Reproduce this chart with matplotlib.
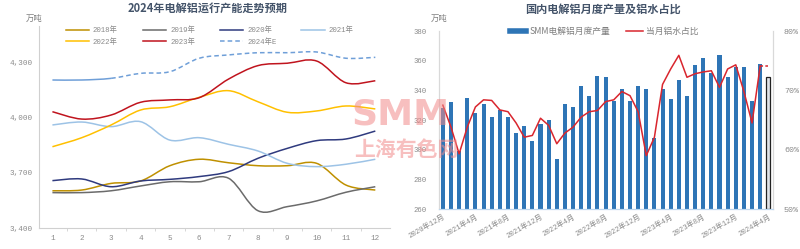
import matplotlib
matplotlib.use('Agg')
import matplotlib.pyplot as plt
from matplotlib.path import Path
from matplotlib.patches import PathPatch
from matplotlib.lines import Line2D

CJK = 'Noto Sans CJK SC'
MONO = ['Liberation Mono', CJK]

# left chart: running capacity by month (10k t)
months = list(range(1, 13))
cap2018 = [3602, 3606, 3642, 3655, 3738, 3773, 3754, 3738, 3738, 3751, 3633, 3606]
cap2019 = [3592, 3592, 3602, 3628, 3651, 3651, 3670, 3494, 3516, 3547, 3594, 3624]
cap2020 = [3657, 3666, 3624, 3655, 3664, 3679, 3706, 3778, 3832, 3874, 3883, 3926]
cap2021 = [3959, 3975, 3950, 3977, 3877, 3890, 3854, 3818, 3751, 3733, 3746, 3773]
cap2022 = [3841, 3890, 3959, 4040, 4058, 4109, 4145, 4085, 4028, 4035, 4062, 4046]
cap2023 = [4031, 3991, 4013, 4082, 4095, 4107, 4208, 4281, 4294, 4306, 4188, 4199]
cap2024e = [4203, 4203, 4212, 4239, 4248, 4321, 4339, 4351, 4351, 4355, 4321, 4326]

# right chart: monthly output and molten aluminium share, 2020-12 .. 2024-04
periods = ['2020年12月', '2021年1月', '2021年2月', '2021年3月', '2021年4月', '2021年5月',
           '2021年6月', '2021年7月', '2021年8月', '2021年9月', '2021年10月', '2021年11月',
           '2021年12月', '2022年1月', '2022年2月', '2022年3月', '2022年4月', '2022年5月',
           '2022年6月', '2022年7月', '2022年8月', '2022年9月', '2022年10月', '2022年11月',
           '2022年12月', '2023年1月', '2023年2月', '2023年3月', '2023年4月', '2023年5月',
           '2023年6月', '2023年7月', '2023年8月', '2023年9月', '2023年10月', '2023年11月',
           '2023年12月', '2024年1月', '2024年2月', '2024年3月', '2024年4月']
output = [328, 332, 299, 335, 325, 331, 322, 327, 322, 311, 316, 306, 317, 320, 294,
          331, 329, 343, 336, 350, 349, 333, 341, 333, 343, 341, 308, 341, 334, 347,
          336, 357, 362, 352, 364, 349, 356, 356, 333, 358, 349]
molten = [67.5, 63.8, 59.3, 63.8, 67.2, 68.4, 68.3, 66.7, 66.4, 64.5, 62.1, 62.4, 65.3,
          64.1, 61.0, 62.8, 63.8, 65.5, 66.4, 66.6, 68.1, 68.4, 69.8, 69.1, 66.4, 59.0,
          62.1, 71.0, 73.6, 75.9, 72.2, 72.8, 73.1, 73.3, 70.5, 73.6, 74.3, 69.8, 64.5,
          74.1, 74.1]


def smooth_path(xs, ys, start, end):
    # catmull-rom style bezier through the points, segment start..end
    n = len(xs)
    pts = list(zip(xs, ys))
    verts = [pts[start]]
    codes = [Path.MOVETO]
    for i in range(start, end):
        p0 = pts[max(i - 1, 0)]
        p1 = pts[i]
        p2 = pts[i + 1]
        p3 = pts[min(i + 2, n - 1)]
        c1 = (p1[0] + (p2[0] - p0[0]) / 6, p1[1] + (p2[1] - p0[1]) / 6)
        c2 = (p2[0] - (p3[0] - p1[0]) / 6, p2[1] - (p3[1] - p1[1]) / 6)
        verts += [c1, c2, p2]
        codes += [Path.CURVE4] * 3
    return Path(verts, codes)


fig = plt.figure(figsize=(8, 2.49), dpi=100)
tick_col = '#8a8a8a'

# ---------------- left chart
ax1 = fig.add_axes([0.049, 0.0843, 0.4385, 0.8113])
series = [('2018年', cap2018, '#bf9000'), ('2019年', cap2019, '#6b6b6b'),
          ('2020年', cap2020, '#2f3a7e'), ('2021年', cap2021, '#9dc3e6'),
          ('2022年', cap2022, '#ffc000'), ('2023年', cap2023, '#c0141e')]
handles = {}
for name, vals, col in series:
    ax1.add_patch(PathPatch(smooth_path(months, vals, 0, 11), fill=False,
                            edgecolor=col, lw=1.1))
    handles[name] = Line2D([], [], color=col, lw=1.1, label=name)
ax1.add_patch(PathPatch(smooth_path(months, cap2024e, 0, 2), fill=False,
                        edgecolor='#6f9fd8', lw=1.1))
ax1.add_patch(PathPatch(smooth_path(months, cap2024e, 2, 11), fill=False,
                        edgecolor='#6f9fd8', lw=1.1, linestyle=(0, (3, 2))))
handles['2024年E'] = Line2D([], [], color='#6f9fd8', lw=1.1, ls=(0, (3, 2)), label='2024年E')

ax1.set_xlim(0.55, 12.5)
ax1.set_ylim(3400, 4496)
ax1.set_xticks(months)
ax1.set_xticks([m + 0.5 for m in months[:-1]], minor=True)
ax1.set_yticks([3400, 3700, 4000, 4300])
ax1.set_yticklabels(['3,400', '3,700', '4,000', '4,300'])
ax1.tick_params(axis='both', labelsize=5.5, colors=tick_col, length=0, pad=5)
ax1.tick_params(axis='x', which='minor', length=2, color='#d0d0d0')
for lab in ax1.get_xticklabels() + ax1.get_yticklabels():
    lab.set_family(MONO)
for s in ['top', 'right']:
    ax1.spines[s].set_visible(False)
for s in ['left', 'bottom']:
    ax1.spines[s].set_color('#d0d0d0')
    ax1.spines[s].set_linewidth(0.8)

# legend fills column by column, so order it to read row by row
order = ['2018年', '2022年', '2019年', '2023年', '2020年', '2024年E', '2021年']
fig.legend(handles=[handles[k] for k in order], loc='center',
           bbox_to_anchor=(0.262, 0.855), ncol=4,
           frameon=False, prop={'family': MONO, 'size': 5.3}, labelcolor='#8a8a8a',
           handlelength=3.2, handletextpad=0.5, columnspacing=3.4, labelspacing=0.5)

fig.text(0.259, 0.965, '2024年电解铝运行产能走势预期', ha='center', va='center',
         family=CJK, fontsize=8, fontweight='bold', color='#44546a')
fig.text(0.043, 0.925, '万吨', ha='center', va='center', family=CJK, fontsize=6,
         color='#7f7f7f')

# ---------------- right chart
ax2 = fig.add_axes([0.549, 0.1606, 0.417, 0.7149])
ax3 = ax2.twinx()
x = list(range(len(periods)))
bar_cols = ['#2e75b6'] * (len(x) - 1) + ['#dfe3e8']
edge_cols = ['#2e75b6'] * (len(x) - 1) + ['#222222']
ax2.bar(x, [v - 260 for v in output], bottom=260, width=0.5, color=bar_cols,
        edgecolor=edge_cols, linewidth=[0] * (len(x) - 1) + [0.9], zorder=2)
ax3.plot(x[:-1], molten[:-1], color='#d9262e', lw=1.1, zorder=3)
ax3.plot(x[-2:], molten[-2:], color='#d9262e', lw=1.1, ls=(0, (2, 1.5)), zorder=3)

ax2.set_xlim(-0.45, 40.55)
ax2.set_ylim(260, 380)
ax3.set_ylim(50, 80)
ax2.set_yticks(range(260, 381, 20))
ax3.set_yticks([50, 60, 70, 80])
ax3.set_yticklabels(['50%', '60%', '70%', '80%'])
ax2.set_xticks(x[::4])
ax2.set_xticklabels(periods[::4], rotation=30, ha='right', rotation_mode='anchor',
                    family=MONO)
ax2.tick_params(axis='x', labelsize=5.2, colors=tick_col, length=0, pad=3)
ax2.tick_params(axis='y', labelsize=5.2, colors=tick_col, length=0, pad=9)
ax3.tick_params(axis='y', labelsize=6, colors=tick_col, length=0, pad=8)
for lab in ax2.get_yticklabels() + ax3.get_yticklabels():
    lab.set_family(MONO)
for a in (ax2, ax3):
    a.spines['top'].set_visible(False)
    a.spines['left'].set_color('#d9d9d9')
    a.spines['right'].set_color('#d9d9d9')
    a.spines['bottom'].set_color('#bdd7ee')

h2 = [Line2D([], [], color='#2e75b6', lw=4, label='SMM电解铝月度产量'),
      Line2D([], [], color='#d9262e', lw=1.1, label='当月铝水占比')]
fig.legend(handles=h2, loc='center', bbox_to_anchor=(0.755, 0.875), ncol=2,
           frameon=False, prop={'family': [CJK], 'size': 6.3}, labelcolor='#7f7f7f',
           handlelength=1.9, handletextpad=0.3, columnspacing=1.9)

fig.text(0.754, 0.965, '国内电解铝月度产量及铝水占比', ha='center', va='center',
         family=CJK, fontsize=8, fontweight='bold', color='#44546a')
fig.text(0.549, 0.925, '万吨', ha='center', va='center', family=CJK, fontsize=6,
         color='#7f7f7f')

# watermark
fig.text(0.5, 0.54, 'SMM', ha='center', va='center', family='DejaVu Sans',
         fontsize=26, fontweight='bold', color='#f28b8b', alpha=0.55, zorder=10)
fig.text(0.508, 0.4, '上海有色网', ha='center', va='center', family=CJK,
         fontsize=15, fontweight='bold', color='#f28b8b', alpha=0.55, zorder=10)

fig.savefig('out.png', dpi=100)
